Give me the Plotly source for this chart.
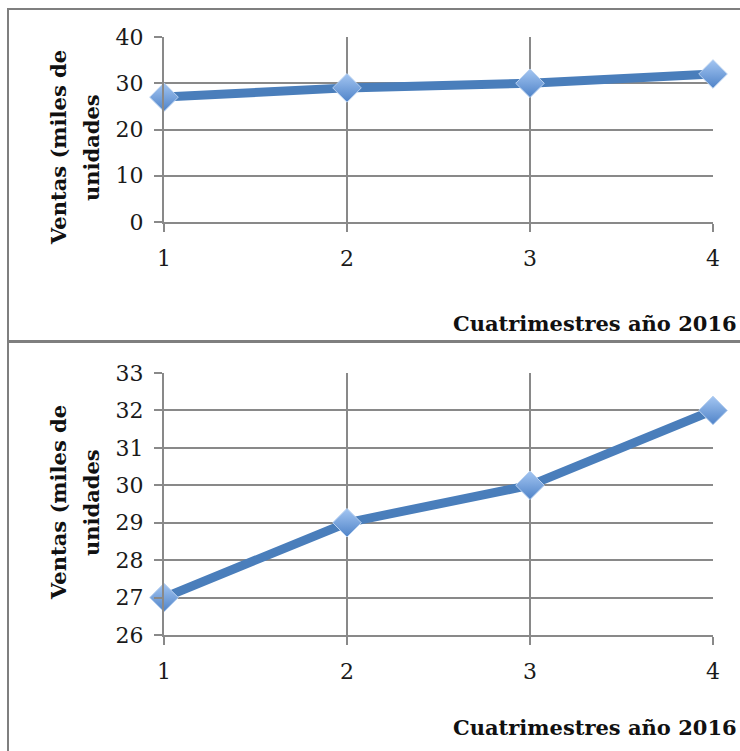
import plotly.graph_objects as go

# Sales per four-month period, 2016 (thousands of units)
cuatrimestres = [1, 2, 3, 4]
ventas = [27, 29, 30, 32]

top_ticks = [0, 10, 20, 30, 40]
bottom_ticks = [26, 27, 28, 29, 30, 31, 32, 33]

W, H = 740, 751
GRID = "#898989"
LINE = "#4A7EBB"
TICK_FONT = dict(family="DejaVu Serif", size=22, color="#1a1a1a")
TITLE_FONT = dict(family="DejaVu Serif", size=21, color="#111111")


def px_x(v):
    return v / W


def px_y(v):
    return 1 - v / H


fig = go.Figure()

for axis_suffix in ["", "2"]:
    fig.add_trace(go.Scatter(
        x=cuatrimestres, y=ventas,
        mode="lines+markers",
        line=dict(color=LINE, width=9),
        marker=dict(symbol="diamond", size=22, color="#A4C6F2",
                    gradient=dict(type="vertical", color="#4F83C8"),
                    line=dict(color="#B7D0F0", width=1)),
        cliponaxis=False,
        xaxis="x" + axis_suffix, yaxis="y" + axis_suffix,
        showlegend=False,
    ))

common_x = dict(
    range=[1, 4], tickvals=cuatrimestres, showgrid=True, gridcolor=GRID, gridwidth=2,
    showline=True, linecolor=GRID, linewidth=2, zeroline=False,
    ticks="outside", ticklen=8, tickwidth=2, tickcolor=GRID,
    tickfont=TICK_FONT, ticklabelstandoff=8, automargin=False,
)
common_y = dict(
    showgrid=True, gridcolor=GRID, gridwidth=2, zeroline=False,
    showline=True, linecolor=GRID, linewidth=2,
    ticks="outside", ticklen=8, tickwidth=2, tickcolor=GRID,
    tickfont=TICK_FONT, ticklabelstandoff=6, automargin=False,
)

xdom = [px_x(164), px_x(713)]

fig.update_layout(
    width=W, height=H,
    margin=dict(l=0, r=0, t=0, b=0),
    paper_bgcolor="white", plot_bgcolor="white",
    xaxis=dict(domain=xdom, anchor="y", **common_x),
    yaxis=dict(domain=[px_y(222), px_y(37)], range=[0, 40], tickvals=top_ticks,
               anchor="x", **common_y),
    xaxis2=dict(domain=xdom, anchor="y2", **common_x),
    yaxis2=dict(domain=[px_y(635), px_y(373)], range=[26, 33], tickvals=bottom_ticks,
                anchor="x2", **common_y),
)

# Chart frames
frame = dict(type="rect", xref="paper", yref="paper",
             line=dict(color="#7f7f7f", width=2), fillcolor="rgba(0,0,0,0)", layer="below")
fig.add_shape(x0=px_x(8), x1=px_x(760), y0=px_y(341), y1=px_y(9), **frame)
fig.add_shape(x0=px_x(8), x1=px_x(760), y0=px_y(780), y1=px_y(342), **frame)

# Axis titles: the y title is set as two rotated lines
for cy in [148, 503]:
    for cx, line_text in [(58, "Ventas (miles de"), (91, "unidades")]:
        fig.add_annotation(
            text="<b>" + line_text + "</b>", textangle=-90,
            x=px_x(cx), y=px_y(cy), xref="paper", yref="paper",
            xanchor="center", yanchor="middle", showarrow=False,
            font=TITLE_FONT,
        )
for cy in [323, 727]:
    fig.add_annotation(
        text="<b>Cuatrimestres año 2016</b>",
        x=px_x(739), y=px_y(cy), xref="paper", yref="paper",
        xanchor="right", yanchor="middle", showarrow=False,
        font=TITLE_FONT,
    )

fig.write_html("out.html")
